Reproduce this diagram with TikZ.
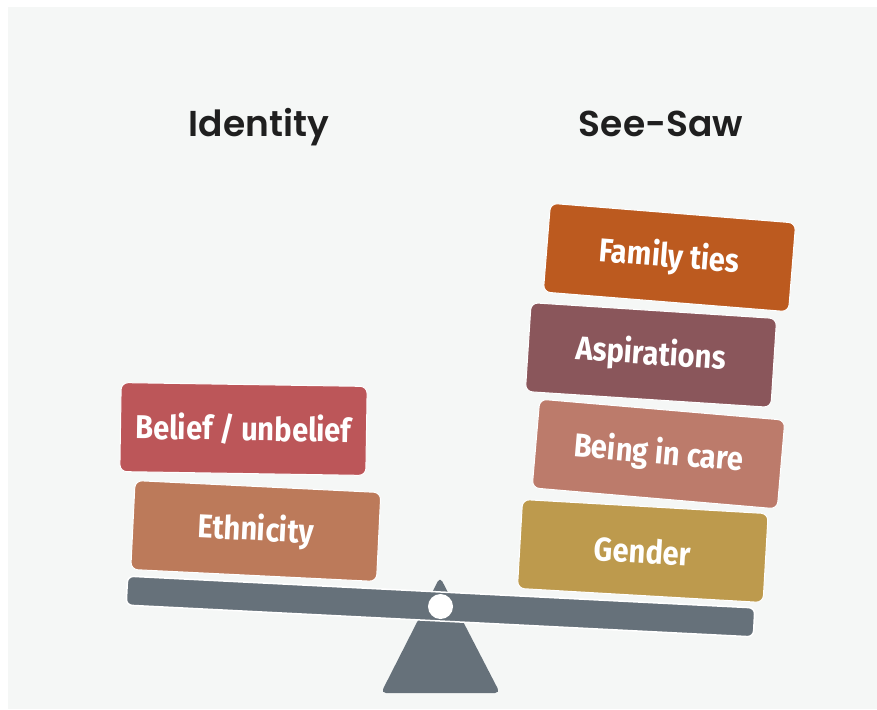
\documentclass[tikz,border=0pt]{standalone}
\usepackage{fontspec}
\newfontfamily\headfont{Poppins SemiBold}
\newfontfamily\boxfont{Fira Sans}[FakeStretch=0.88]

\definecolor{paper}{HTML}{F5F7F6}
\definecolor{ink}{HTML}{1F1F1F}
\definecolor{slate}{HTML}{66717A}
\definecolor{belief}{HTML}{BC5659}
\definecolor{ethnic}{HTML}{BC7A5A}
\definecolor{family}{HTML}{BC5A1F}
\definecolor{aspire}{HTML}{8A565B}
\definecolor{care}{HTML}{BC7B6B}
\definecolor{gender}{HTML}{BD9A4D}

\tikzset{
  heading/.style={anchor=base, text=ink, font=\headfont\fontsize{36}{36}\selectfont},
  block/.style={rectangle, rounded corners=7pt, draw=white, line width=1pt,
    minimum width=246pt, minimum height=89pt, inner sep=0pt,
    text=white, font=\boxfont\bfseries\fontsize{33}{33}\selectfont},
}

\begin{document}
\begin{tikzpicture}[x=1pt,y=-1pt]

  \useasboundingbox (0,0) rectangle (877,709);
  \fill[paper] (8,7) rectangle (877,709);

  \node[heading] (left)  at (259,136) {Identity};
  \node[heading] (right) at (661,136) {See-Saw};

  % stand and beam
  \coordinate (top)  at (440,577);
  \coordinate (footl) at (381,693);
  \coordinate (footr) at (500,693);
  \fill[slate, rounded corners=5pt] (top) -- (footr) -- (footl) -- cycle;

  \node[rectangle, fill=slate, draw=white, line width=1.5pt, rounded corners=6pt,
        minimum width=628pt, minimum height=29pt, rotate=-2.9] (plank) at (440.5,606.5) {};
  \node[circle, fill=white, minimum size=25pt, inner sep=0pt] (pivot) at (plank.center) {};

  \begin{scope}[every node/.style={block}]
    % left pile
    \node[fill=belief, rotate=-0.9] (b1) at (243.5,429) {Belief / unbelief};
    \node[fill=ethnic, rotate=-2.8] (b2) at (255.8,531) {Ethnicity};
    % right pile
    \node[fill=family, rotate=-4.6] (r1) at (669.5,257.5) {Family ties};
    \node[fill=aspire, rotate=-3.7] (r2) at (651,355)     {Aspirations};
    \node[fill=care,   rotate=-4.9] (r3) at (658.5,454)   {Being in care};
    \node[fill=gender, rotate=-3.3] (r4) at (642.8,551)   {Gender};
  \end{scope}

\end{tikzpicture}
\end{document}
